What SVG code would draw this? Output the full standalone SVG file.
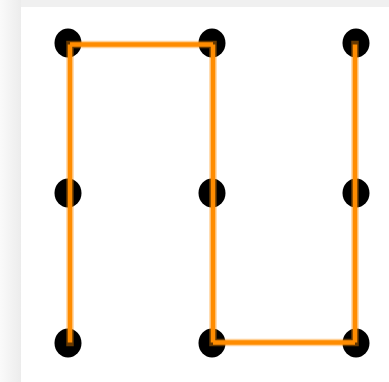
<svg xmlns="http://www.w3.org/2000/svg" width="389" height="382" viewBox="0 0 389 382">
<defs>
<linearGradient id="lg" x1="0" y1="0" x2="1" y2="0">
<stop offset="0" stop-color="#fafafa"/>
<stop offset="1" stop-color="#ececec"/>
</linearGradient>
<style>
.dot{fill:#000}
.halo{fill:none;stroke:#ff8c00;stroke-opacity:0.4;stroke-width:7.5;stroke-linecap:square;stroke-linejoin:miter}
.core{fill:none;stroke:#ff8c00;stroke-width:4.5;stroke-linecap:butt}
</style>
</defs>
<rect x="0" y="0" width="389" height="382" fill="#ffffff"/>
<rect x="0" y="0" width="389" height="7" fill="#f0f0f0"/>
<rect x="0" y="0" width="21" height="382" fill="url(#lg)"/>
<g id="nodes">
<g id="n1"><ellipse class="dot" cx="68" cy="43" rx="13.5" ry="14.5"/></g>
<g id="n2"><ellipse class="dot" cx="212" cy="43" rx="13.5" ry="14.5"/></g>
<g id="n3"><ellipse class="dot" cx="356" cy="43" rx="13.5" ry="14.5"/></g>
<g id="n4"><ellipse class="dot" cx="68" cy="193" rx="13.5" ry="14.5"/></g>
<g id="n5"><ellipse class="dot" cx="212" cy="193" rx="13.5" ry="14.5"/></g>
<g id="n6"><ellipse class="dot" cx="356" cy="193" rx="13.5" ry="14.5"/></g>
<g id="n7"><ellipse class="dot" cx="68" cy="343" rx="13.5" ry="14.5"/></g>
<g id="n8"><ellipse class="dot" cx="212" cy="343" rx="13.5" ry="14.5"/></g>
<g id="n9"><ellipse class="dot" cx="356" cy="343" rx="13.5" ry="14.5"/></g>
</g>
<g id="connectors">
<path class="halo" d="M70,342.5 V44.5 H213 V342.5 H355 V44.5"/>
<line class="core" x1="70" y1="342.5" x2="70" y2="44.5"/>
<line class="core" x1="70" y1="44.5" x2="213" y2="44.5"/>
<line class="core" x1="213" y1="44.5" x2="213" y2="342.5"/>
<line class="core" x1="213" y1="342.5" x2="355" y2="342.5"/>
<line class="core" x1="355" y1="342.5" x2="355" y2="44.5"/>
</g>
</svg>
